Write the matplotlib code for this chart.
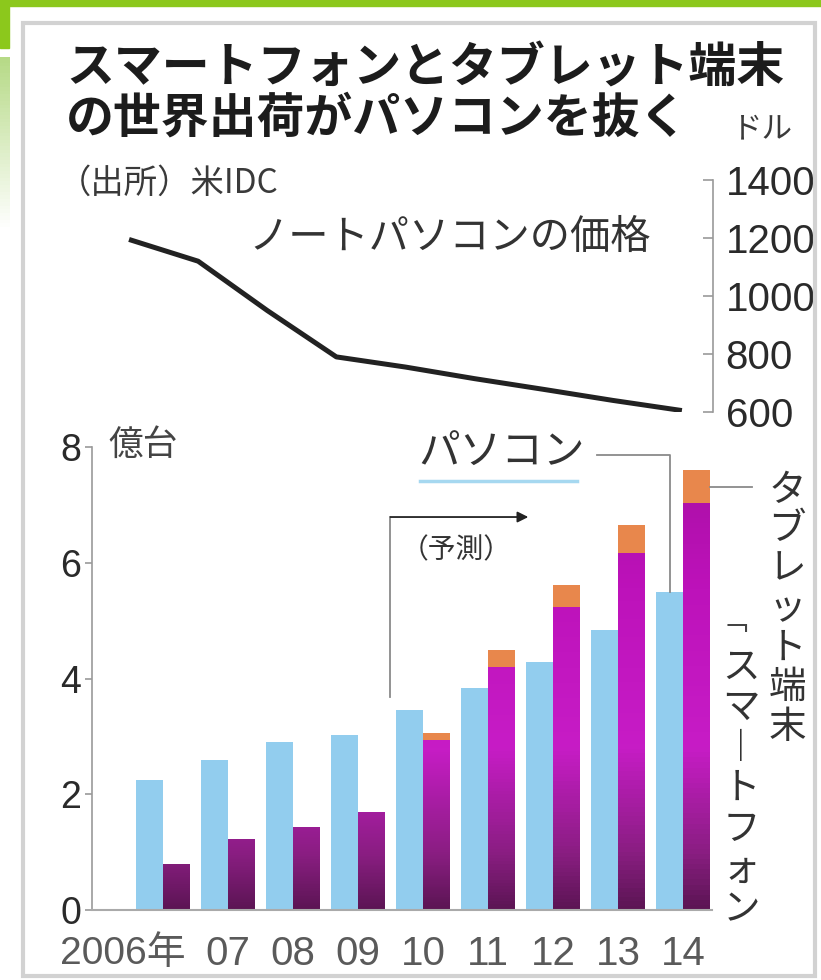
import numpy as np
import matplotlib
matplotlib.use("Agg")
import matplotlib.pyplot as plt
from matplotlib.colors import LinearSegmentedColormap
from matplotlib.patches import Rectangle
from matplotlib.lines import Line2D

plt.rcParams['font.family'] = ['Noto Sans CJK JP', 'DejaVu Sans']

# ---- data ----
years = ["2006年", "07", "08", "09", "10", "11", "12", "13", "14"]
pc_units = [2.25, 2.59, 2.90, 3.02, 3.45, 3.83, 4.28, 4.84, 5.49]        # 億台
smartphone_units = [0.78, 1.21, 1.43, 1.69, 2.94, 4.20, 5.23, 6.17, 7.03]
tablet_units = [0, 0, 0, 0, 0.12, 0.29, 0.38, 0.48, 0.57]
notebook_price = [1195, 1120, 950, 790, 755, 715, 678, 640, 605]          # ドル
left_ticks = [0, 2, 4, 6, 8]
right_ticks = [600, 800, 1000, 1200, 1400]

W, H = 821, 980
NUM = ['Liberation Sans', 'Noto Sans CJK JP']


def fx(x):
    return x / W


def fy(y):
    return 1 - y / H


fig = plt.figure(figsize=(W / 100, H / 100), dpi=100)
fig.patch.set_facecolor('white')

# ---- slide decoration + frame ----
green = '#8cc81c'
fig.patches.append(Rectangle((0, fy(6)), 1, 6 / H, transform=fig.transFigure,
                             color=green, zorder=0))
fig.patches.append(Rectangle((0, fy(48)), fx(9), 48 / H, transform=fig.transFigure,
                             color=green, zorder=0))
gax = fig.add_axes([0, fy(230), fx(9), (230 - 57) / H])
gcmap = LinearSegmentedColormap.from_list('g', ['#b6da86', '#ffffff'])
gax.imshow(np.linspace(0, 1, 50)[:, None], cmap=gcmap, aspect='auto')
gax.axis('off')
fig.patches.append(Rectangle((fx(23), fy(976)), fx(815 - 23), (976 - 23) / H,
                             transform=fig.transFigure, fill=False,
                             ec='#d2d2d2', lw=3, zorder=1))

x = np.arange(len(years))
w = 0.41

# ---- bottom: shipments ----
ax = fig.add_axes([fx(92), fy(910), (712 - 92) / W, (910 - 447) / H])
ax.patch.set_alpha(0)

ax.bar(x - w / 2, pc_units, width=w, color='#92cdee', zorder=2)

# smartphone bars shaded by absolute height (dark at the bottom, magenta higher up)
sp_cmap = LinearSegmentedColormap.from_list(
    'sp', [(0, '#5c1554'), (0.12, '#8a1e82'), (0.35, '#c71cc6'),
           (0.7, '#bd12ba'), (1, '#a80fa2')])
for xi, h in zip(x, smartphone_units):
    yy = np.linspace(0, h, 80)[:, None] / 8
    ax.imshow(sp_cmap(yy), extent=[xi, xi + w, 0, h], origin='lower',
              aspect='auto', zorder=2)
ax.bar(x + w / 2, tablet_units, width=w, bottom=smartphone_units,
       color='#e8874c', zorder=2)

ax.set_xlim(-1.092, 8.446)
ax.set_ylim(0, 8)
for s in ['top', 'right']:
    ax.spines[s].set_visible(False)
ax.spines['left'].set_color('#9a9a9a')
ax.spines['bottom'].set_color('#aaaaaa')
ax.spines['left'].set_linewidth(1.2)
ax.spines['bottom'].set_linewidth(1.5)
ax.set_xticks([])
ax.set_yticks(left_ticks)
ax.set_yticklabels([str(t) for t in left_ticks], family=NUM, fontsize=27,
                   color='#2a2a2a')
ax.tick_params(axis='y', length=5, width=1.2, color='#9a9a9a', pad=3)

for xi, lab in zip(x, years):
    if xi == 0:
        ax.text(xi + 0.35, -0.095, lab, transform=ax.get_xaxis_transform(),
                ha='right', va='center', family=NUM, fontsize=28, color='#5a5a5a')
    else:
        ax.text(xi, -0.095, lab, transform=ax.get_xaxis_transform(),
                ha='center', va='center', family=NUM, fontsize=29, color='#5a5a5a')

# forecast marker
ax.plot([3.5, 3.5], [3.68, 6.79], color='#8a8a8a', lw=1.3, zorder=3)
ax.annotate('', xy=(5.62, 6.79), xytext=(3.5, 6.79),
            arrowprops=dict(arrowstyle='-|>', color='#222', lw=1.3,
                            mutation_scale=16, shrinkA=0, shrinkB=0))

# パソコン leader
ax.plot([6.68, 8 - w / 2, 8 - w / 2], [7.86, 7.86, pc_units[-1]],
        color='#8a8a8a', lw=1.3, clip_on=False, zorder=3)
# タブレット leader
tab_mid = smartphone_units[-1] + tablet_units[-1] / 2
ax.plot([8 + w, 9.06], [tab_mid, tab_mid], color='#8a8a8a', lw=1.3,
        clip_on=False, zorder=3)

# ---- top: notebook price ----
ax2 = fig.add_axes([fx(100), fy(412), (713 - 100) / W, (412 - 180) / H])
ax2.patch.set_alpha(0)
ax2.plot(x, notebook_price, color='#222222', lw=3.6, solid_capstyle='butt')
ax2.set_xlim(-0.42, 8.45)
ax2.set_ylim(600, 1400)
for s in ['top', 'left', 'bottom']:
    ax2.spines[s].set_visible(False)
ax2.spines['right'].set_color('#9a9a9a')
ax2.spines['right'].set_linewidth(1.2)
ax2.set_xticks([])
ax2.yaxis.tick_right()
ax2.set_yticks(right_ticks)
ax2.set_yticklabels([str(t) for t in right_ticks], family=NUM, fontsize=29,
                    color='#2a2a2a')
ax2.tick_params(axis='y', direction='in', length=7, width=1.2,
                color='#9a9a9a', pad=9)

# ---- texts ----
fig.text(fx(66), fy(68), "スマートフォンとタブレット端末", fontsize=34.5,
         fontweight='bold', color='#1c1c1c', va='center', ha='left')
fig.text(fx(66), fy(118), "の世界出荷がパソコンを抜く", fontsize=34.5,
         fontweight='bold', color='#1c1c1c', va='center', ha='left')
fig.text(fx(58), fy(183), "（出所）米IDC", fontsize=24, color='#3a3a3a',
         va='center', ha='left')
fig.text(fx(762), fy(129), "ドル", fontsize=22, color='#3a3a3a',
         va='center', ha='center')
fig.text(fx(450), fy(237), "ノートパソコンの価格", fontsize=29, color='#333333',
         va='center', ha='center')
fig.text(fx(143), fy(445), "億台", fontsize=25, color='#444444',
         va='center', ha='center')
fig.text(fx(502), fy(453), "パソコン", fontsize=30, color='#333333',
         va='center', ha='center')
fig.lines.append(Line2D([fx(420), fx(577)], [fy(481), fy(481)],
                        transform=fig.transFigure, color='#a6d8f0', lw=2.5))
fig.text(fx(456), fy(550), "（予測）", fontsize=20, color='#333333',
         va='center', ha='center')

# vertical labels on the right
for k, ch in enumerate("タブレット端末"):
    fig.text(fx(787), fy(490 + k * 39.5), ch, fontsize=27, color='#333333',
             va='center', ha='center')
fig.text(fx(733), fy(622), "﹁", fontsize=20, color='#444444',
         va='center', ha='center')
for k, ch in enumerate("スマ︱トフォン"):
    fig.text(fx(741), fy(667 + k * 40.5), ch, fontsize=27, color='#333333',
             va='center', ha='center')

fig.savefig('out.png', dpi=100)
